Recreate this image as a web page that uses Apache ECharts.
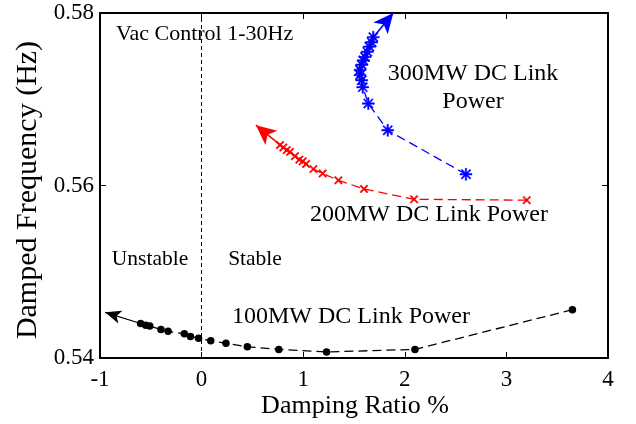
<!DOCTYPE html>
<html>
<head>
<meta charset="utf-8">
<script src="https://cdn.jsdelivr.net/npm/echarts@6/dist/echarts.min.js"></script>
<style>html,body{margin:0;padding:0;background:#fff;}#c{width:636px;height:424px;}</style>
</head>
<body>
<div id="c"></div>
<script>
// ---- data ----
var xTicks = [-1, 0, 1, 2, 3, 4];
var yTicks = [0.54, 0.56, 0.58];

var blueX = [2.602, 1.832, 1.641, 1.586, 1.576, 1.559, 1.559, 1.576, 1.592, 1.608, 1.631, 1.651, 1.674, 1.690];
var blueY = [0.5613, 0.5664, 0.5695, 0.5714, 0.5722, 0.5728, 0.5734, 0.5740, 0.5745, 0.5749, 0.5755, 0.5761, 0.5766, 0.5772];
var blueArrowTip = [1.887, 0.5800];

var redX = [3.200, 2.091, 1.598, 1.346, 1.192, 1.100, 1.028, 0.995, 0.962, 0.919, 0.870, 0.838, 0.804, 0.772];
var redY = [0.5583, 0.5584, 0.5596, 0.5606, 0.5614, 0.5619, 0.5625, 0.5628, 0.5630, 0.5634, 0.5639, 0.5641, 0.5644, 0.5647];
var redArrowTip = [0.535, 0.5670];

var blackX = [3.65, 2.10, 1.23, 0.76, 0.45, 0.24, 0.09, -0.03, -0.11, -0.17, -0.33, -0.40, -0.51, -0.55, -0.60];
var blackY = [0.5456, 0.5410, 0.5407, 0.5410, 0.5413, 0.5417, 0.5420, 0.5423, 0.5425, 0.5428, 0.5431, 0.5433, 0.5437, 0.5438, 0.5440];
var blackArrowTip = [-0.95, 0.5453];

var boundaryX = 0;

// ---- build ----
function pairs(xs, ys) { return xs.map(function (x, i) { return [x, ys[i]]; }); }
var FONT = 'Liberation Serif';
var xPath = 'path://M0,1.2 L1.2,0 L10,8.8 L8.8,10 Z M8.8,0 L10,1.2 L1.2,10 L0,8.8 Z';
var starPath = 'path://M4.4,0 L5.6,0 L5.6,10 L4.4,10 Z M0,4.4 L10,4.4 L10,5.6 L0,5.6 Z M0.9,1.7 L1.7,0.9 L9.1,8.3 L8.3,9.1 Z M8.3,0.9 L9.1,1.7 L1.7,9.1 L0.9,8.3 Z';

function arrowLine(fromPt, tip, color, size, width) {
  return {
    silent: true,
    symbol: ['none', 'arrow'],
    symbolSize: size,
    label: { show: false },
    lineStyle: { color: color, type: 'solid', width: width },
    emphasis: { disabled: true },
    data: [[{ coord: fromPt }, { coord: tip }]]
  };
}

var blueData = pairs(blueX, blueY);
var redData = pairs(redX, redY);
var blackData = pairs(blackX, blackY);

var axisFont = { fontFamily: FONT, fontSize: 23, color: '#000' };

var option = {
  animation: false,
  backgroundColor: '#fff',
  grid: { left: 100, right: 28, top: 13, bottom: 66 },
  xAxis: [{
    type: 'value', min: xTicks[0], max: xTicks[xTicks.length - 1], interval: 1,
    axisLine: { onZero: false, lineStyle: { color: '#000', width: 2 } },
    axisTick: { inside: true, length: 6, lineStyle: { color: '#000', width: 1 } },
    axisLabel: Object.assign({ margin: 10 }, axisFont),
    splitLine: { show: false }
  }, {
    type: 'value', position: 'top', min: xTicks[0], max: xTicks[xTicks.length - 1], interval: 1,
    axisLine: { onZero: false, lineStyle: { color: '#000', width: 2 } },
    axisTick: { inside: true, length: 6, lineStyle: { color: '#000', width: 1 } },
    axisLabel: { show: false }, splitLine: { show: false }
  }],
  yAxis: [{
    type: 'value', min: yTicks[0], max: yTicks[yTicks.length - 1], interval: 0.02,
    axisLine: { onZero: false, lineStyle: { color: '#000', width: 2 } },
    axisTick: { inside: true, length: 6, lineStyle: { color: '#000', width: 1 } },
    axisLabel: Object.assign({ margin: 6, formatter: function (v) { return v.toFixed(2); } }, axisFont),
    splitLine: { show: false }
  }, {
    type: 'value', position: 'right', min: yTicks[0], max: yTicks[yTicks.length - 1], interval: 0.02,
    axisLine: { onZero: false, lineStyle: { color: '#000', width: 2 } },
    axisTick: { inside: true, length: 6, lineStyle: { color: '#000', width: 1 } },
    axisLabel: { show: false }, splitLine: { show: false }
  }],
  series: [{
    name: 'boundary', type: 'line', data: [], silent: true,
    markLine: {
      silent: true, symbol: ['none', 'none'], label: { show: false },
      lineStyle: { color: '#000', type: [4, 3], width: 1 },
      data: [{ xAxis: boundaryX }]
    }
  }, {
    name: '100MW', type: 'line', data: blackData, silent: true,
    symbol: 'circle', symbolSize: 7.5,
    itemStyle: { color: '#000' },
    lineStyle: { color: '#000', type: [9, 5], width: 1.3 },
    markLine: arrowLine(blackData[blackData.length - 1], blackArrowTip, '#000', [10, 16], 1.3)
  }, {
    name: '200MW', type: 'line', data: redData, silent: true,
    symbol: xPath, symbolSize: 8,
    itemStyle: { color: '#ff0000', borderColor: '#ff0000', borderWidth: 0.6 },
    lineStyle: { color: '#ff0000', type: [9, 5], width: 1.3 },
    markLine: arrowLine(redData[redData.length - 1], redArrowTip, '#ff0000', [14, 20], 1.6)
  }, {
    name: '300MW', type: 'line', data: blueData, silent: true,
    symbol: starPath, symbolSize: 12,
    itemStyle: { color: '#0000ff', borderColor: '#0000ff', borderWidth: 0.5 },
    lineStyle: { color: '#0000ff', type: [9, 5], width: 1.3 },
    markLine: arrowLine(blueData[blueData.length - 1], blueArrowTip, '#0000ff', [14, 20], 1.6)
  }],
  graphic: [
    { type: 'text', left: 116, top: 23, style: { text: 'Vac Control 1-30Hz', font: '22px "' + FONT + '"', fill: '#000' } },
    { type: 'text', x: 473, y: 60, style: { text: '300MW DC Link\nPower', font: '24px "' + FONT + '"', fill: '#000', align: 'center', verticalAlign: 'top', lineHeight: 28 } },
    { type: 'text', x: 429, y: 203, style: { text: '200MW DC Link Power', font: '24px "' + FONT + '"', fill: '#000', align: 'center', verticalAlign: 'top' } },
    { type: 'text', x: 150, y: 248, style: { text: 'Unstable', font: '21.5px "' + FONT + '"', fill: '#000', align: 'center', verticalAlign: 'top' } },
    { type: 'text', x: 255, y: 248, style: { text: 'Stable', font: '21.5px "' + FONT + '"', fill: '#000', align: 'center', verticalAlign: 'top' } },
    { type: 'text', x: 351, y: 305, style: { text: '100MW DC Link Power', font: '24px "' + FONT + '"', fill: '#000', align: 'center', verticalAlign: 'top' } },
    { type: 'text', x: 355, y: 406, style: { text: 'Damping Ratio %', font: '26px "' + FONT + '"', fill: '#000', align: 'center', verticalAlign: 'middle' } },
    { type: 'text', x: 28, y: 190, rotation: Math.PI / 2, style: { text: 'Damped Frequency (Hz)', font: '30px "' + FONT + '"', fill: '#000', align: 'center', verticalAlign: 'middle' } }
  ]
};

var chart = echarts.init(document.getElementById('c'), null, { renderer: 'canvas' });
chart.setOption(option);
</script>
</body>
</html>
